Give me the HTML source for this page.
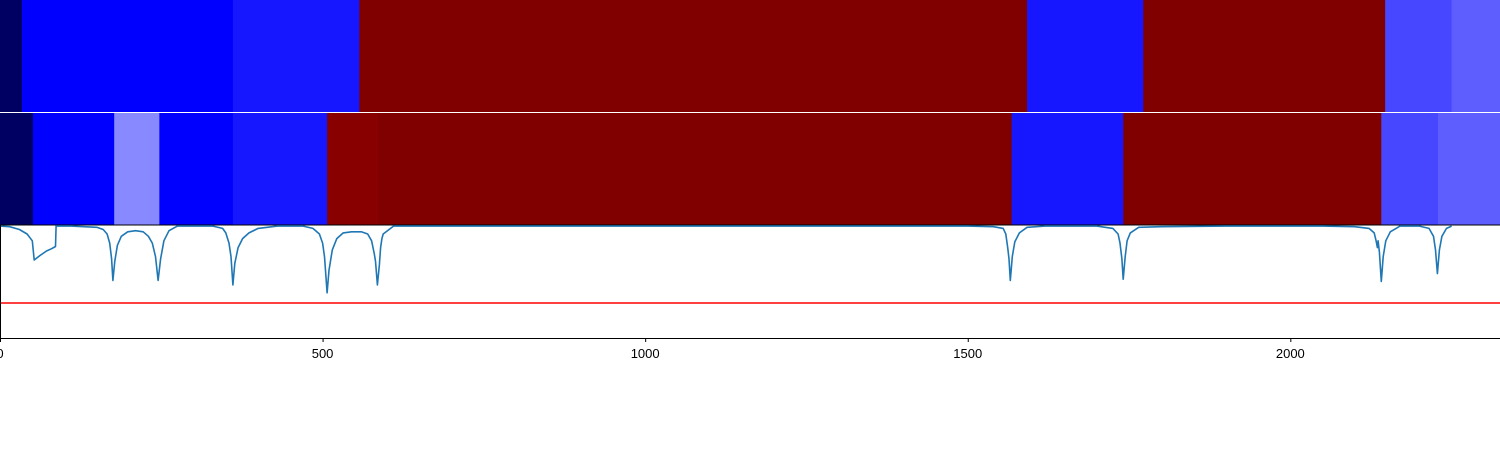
<!DOCTYPE html>
<html><head><meta charset="utf-8"><style>
html,body{margin:0;padding:0;background:#fff;}
svg{display:block;font-family:"Liberation Sans","DejaVu Sans",sans-serif;}
</style></head><body>
<svg id="chart" width="1500" height="450"></svg>
<script>
const xMax = 2325;
const row1Bounds = [0, 34, 361, 557, 1592, 1772, 2147, 2250, 2325];
const row1Values = [0.03, 0.25, 0.273, 1.0, 0.273, 1.0, 0.32, 0.342];
const row2Bounds = [0, 51, 177, 247, 361, 507, 586, 1568, 1741, 2141, 2229, 2325];
const row2Values = [0.03, 0.25, 0.383, 0.25, 0.273, 0.983, 1.0, 0.273, 1.0, 0.32, 0.342];
const linePts = [
 [0,.99],[15,.985],[30,.96],[42,.92],[50,.86],[53,.69],[62,.73],[72,.77],[80,.79],[86,.81],[87,.99],[110,.99],[130,.985],[150,.98],
 [160,.96],[166,.92],[170,.84],[173,.70],[175,.51],[178,.68],[182,.82],[188,.90],[198,.94],[210,.95],[222,.94],
 [230,.90],[236,.84],[241,.72],[245,.51],[249,.70],[254,.86],[262,.95],[275,.99],[300,.99],[330,.99],[345,.97],
 [350,.93],[355,.84],[358,.72],[361,.47],[364,.66],[369,.80],[376,.88],[386,.93],[400,.97],[430,.99],[470,.99],[485,.97],
 [495,.92],[500,.84],[503,.72],[507,.40],[510,.60],[515,.78],[522,.88],[532,.93],[545,.94],[560,.94],[570,.92],
 [576,.86],[580,.75],[582,.68],[585,.47],[588,.65],[590,.80],[592,.88],[594,.92],[610,.99],[700,.99],[1000,.99],[1300,.99],[1500,.99],[1540,.985],[1555,.97],
 [1559,.92],[1562,.80],[1564,.70],[1566,.51],[1569,.72],[1573,.85],[1580,.93],[1592,.98],[1620,.99],[1700,.99],[1725,.97],[1733,.92],
 [1736,.84],[1739,.70],[1741,.52],[1744,.72],[1747,.86],[1752,.93],[1765,.98],[1800,.985],[1900,.99],[2050,.99],[2100,.985],[2122,.97],[2130,.93],[2133,.86],[2135,.80],
 [2136,.86],[2138,.76],[2141,.50],[2144,.72],[2148,.86],[2155,.94],[2170,.99],[2200,.99],[2215,.97],[2222,.90],[2225,.78],[2228,.57],[2231,.78],[2235,.90],[2242,.97],[2250,.99]
];
const threshold = 0.31;
const xTicks = [0, 500, 1000, 1500, 2000];

const NS = "http://www.w3.org/2000/svg";
const svg = document.getElementById("chart");
const plotL = 0, plotR = 1500;
const xs = v => plotL + v / xMax * (plotR - plotL);
const lineTop = 225, lineBot = 338;
const ys = v => lineBot - v * (lineBot - lineTop);

function seismic(v){
  const stops=[[0,0,0,0.3],[0.25,0,0,1],[0.5,1,1,1],[0.75,1,0,0],[1,0.5,0,0]];
  for(let i=0;i<stops.length-1;i++){
    const a=stops[i],b=stops[i+1];
    if(v<=b[0]){const t=(v-a[0])/(b[0]-a[0]);
      const c=[1,2,3].map(k=>Math.round(255*(a[k]+(b[k]-a[k])*t)));
      return `rgb(${c[0]},${c[1]},${c[2]})`;}
  }
  return "rgb(127,0,0)";
}
function mk(tag, attrs){const e=document.createElementNS(NS,tag);for(const k in attrs)e.setAttribute(k,attrs[k]);svg.appendChild(e);return e;}

function drawRow(bounds, values, y0, y1, name){
  for(let i=0;i<values.length;i++){
    const r = mk("rect",{x:xs(bounds[i]),y:y0,width:xs(bounds[i+1])-xs(bounds[i])+0.5,height:y1-y0,fill:seismic(values[i])});
    
    
  }
}
drawRow(row1Bounds,row1Values,0,112,'heatmap-row-1');
drawRow(row2Bounds,row2Values,113,225,'heatmap-row-2');

const sep = mk("line",{x1:0,x2:1500,y1:225,y2:225,stroke:"#000","stroke-width":1});



const th = mk("line",{x1:0,x2:1500,y1:ys(threshold),y2:ys(threshold),stroke:"#ff0000","stroke-width":1.5});



let d="";
linePts.forEach((pt,i)=>{ d+=(i?"L":"M")+xs(pt[0]).toFixed(1)+","+ys(pt[1]).toFixed(1); });
const p = mk("path",{d:d,fill:"none",stroke:"#1f77b4","stroke-width":1.6,"stroke-linejoin":"round"});



const ax = mk("line",{x1:0,x2:1500,y1:338.5,y2:338.5,stroke:"#000","stroke-width":1});


const ly = mk("line",{x1:0.5,x2:0.5,y1:225,y2:338,stroke:"#000","stroke-width":1});



xTicks.forEach(t=>{
  const tk = mk("line",{x1:xs(t)+0.5,x2:xs(t)+0.5,y1:338,y2:342,stroke:"#000","stroke-width":1});
  
  
  const tx = mk("text",{x:xs(t),y:358,"text-anchor":"middle","font-size":13,fill:"#000"});
  tx.textContent=t;
  
  
});
</script>
</body></html>
